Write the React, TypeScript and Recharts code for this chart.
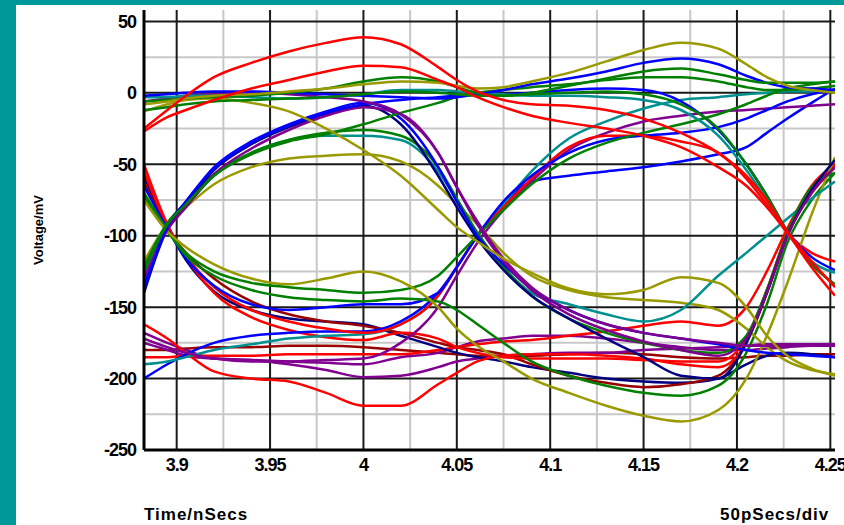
import React from "react";
import { LineChart, Line, XAxis, YAxis, CartesianGrid } from "recharts";

// sample times (nSecs) shared by every trace
const times = [
  3.8825, 3.895, 3.905, 3.92, 3.94, 3.96, 3.98, 4.0, 4.02, 4.04, 4.05, 4.061,
  4.075, 4.09, 4.11, 4.13, 4.15, 4.17, 4.19, 4.205, 4.216, 4.227, 4.24, 4.2525
];

const xTicks = [3.9, 3.95, 4, 4.05, 4.1, 4.15, 4.2, 4.25];
const xMinor = [3.925, 3.975, 4.025, 4.075, 4.125, 4.175, 4.225];
const yTicks = [-250, -200, -150, -100, -50, 0, 50];
const yMajor = [50, 0, -50, -100, -150, -200];
const yMinor = [25, -25, -75, -125, -175, -225];

// traces, mV
const red1 = [-25, -12, -2, 11, 21, 29, 35, 39, 34, 18, 9, 1, -5, -8, -9, -12, -18, -28, -42, -58, -75, -97, -118, -136];
const red2 = [-27, -17, -12, -5, 3, 9, 15, 19, 18, 9, 4, -3, -10, -16, -21, -25, -30, -38, -52, -65, -80, -98, -122, -142];
const red3 = [-50, -92, -115, -140, -157, -166, -171, -173, -168, -172, -178, -182, -185, -186, -186, -186, -187, -188, -188, -172, -138, -98, -70, -52];
const red4 = [-55, -93, -114, -136, -152, -160, -165, -168, -162, -142, -122, -100, -80, -60, -38, -30, -30, -34, -42, -60, -78, -98, -112, -118];
const red5 = [-162, -172, -182, -195, -200, -202, -210, -219, -219, -204, -196, -188, -184, -183, -183, -184, -186, -190, -192, -175, -140, -98, -68, -50];
const red6 = [-185, -185, -184, -184, -184, -183, -183, -183, -183, -180, -178, -176, -174, -173, -170, -167, -163, -160, -163, -150, -125, -95, -65, -50];
const blue1 = [-2, -1, 0, 1, 1, 0, -1, -2, -3, -4, -3, -1, 2, 6, 10, 15, 21, 24, 20, 12, 7, 4, 3, 2];
const blue2 = [-135, -93, -76, -52, -34, -22, -13, -7, -18, -52, -76, -100, -120, -137, -152, -162, -168, -172, -176, -180, -182, -183, -184, -185];
const blue3 = [-138, -94, -76, -53, -35, -23, -14, -8, -5, -3, -2, -1, -1, 0, 2, 3, 2, -6, -26, -50, -72, -97, -115, -124];
const blue4 = [-200, -190, -183, -175, -170, -168, -167, -167, -160, -140, -122, -100, -78, -62, -58, -55, -52, -48, -43, -38, -28, -18, -7, 3];
const blue5 = [-65, -95, -116, -135, -148, -152, -150, -148, -148, -140, -122, -100, -76, -58, -42, -33, -30, -28, -24, -18, -12, -6, -1, 2];
const navy1 = [-140, -95, -78, -54, -36, -24, -15, -9, -22, -58, -80, -102, -124, -142, -158, -172, -185, -198, -200, -175, -140, -100, -68, -47];
const navy2 = [-58, -94, -117, -139, -152, -158, -160, -162, -170, -178, -182, -185, -188, -192, -196, -200, -202, -203, -200, -190, -184, -182, -183, -185];
const green1 = [-6, -5, -4, -3, -2, 0, 3, 8, 11, 8, 4, 0, -2, 0, 5, 10, 15, 17, 13, 9, 7, 7, 7, 8];
const green2 = [-12, -10, -8, -6, -5, -4, -3, -1, 1, 0, -1, -2, -2, -1, 0, 1, -1, -8, -25, -50, -72, -97, -120, -134];
const green3 = [-125, -92, -78, -58, -43, -34, -29, -22, -14, -7, -3, 0, 2, 4, 6, 9, 11, 11, 8, 4, 2, 2, 3, 5];
const green4 = [-70, -96, -114, -128, -138, -143, -145, -146, -144, -146, -152, -162, -175, -188, -198, -205, -210, -212, -205, -182, -148, -105, -75, -56];
const green5 = [-72, -97, -112, -125, -133, -136, -138, -140, -138, -128, -115, -100, -82, -64, -46, -35, -28, -22, -15, -8, -2, 3, 6, 8];
const green6 = [-122, -91, -77, -57, -42, -33, -28, -26, -30, -52, -74, -98, -122, -142, -158, -168, -175, -180, -182, -170, -138, -98, -66, -56];
const olive1 = [-8, -6, -4, -2, -1, 1, 3, 6, 8, 7, 5, 3, 4, 8, 14, 22, 30, 35, 31, 20, 11, 5, 2, 0];
const olive2 = [-13, -8, -5, -4, -7, -13, -25, -40, -58, -82, -94, -104, -116, -126, -137, -141, -138, -129, -133, -150, -170, -184, -193, -198];
const olive3 = [-75, -97, -108, -120, -130, -134, -130, -125, -132, -150, -165, -177, -188, -200, -210, -219, -226, -230, -222, -200, -170, -133, -85, -45];
const olive4 = [-118, -92, -80, -64, -52, -46, -44, -43, -48, -65, -78, -92, -112, -128, -138, -143, -145, -147, -152, -165, -178, -188, -194, -197];
const teal1 = [-3, -3, -2, -2, -3, -4, -3, -1, 2, 2, 1, 0, -1, -2, -2, -3, -5, -12, -30, -54, -75, -98, -118, -126];
const teal2 = [-128, -93, -79, -58, -42, -33, -30, -30, -33, -55, -75, -98, -122, -140, -148, -155, -160, -152, -128, -112, -100, -88, -74, -62];
const teal3 = [-190, -188, -185, -180, -176, -172, -170, -169, -162, -142, -122, -100, -78, -55, -32, -20, -11, -5, -3, -1, 0, 1, 1, 2];
const purple1 = [-130, -96, -80, -57, -39, -26, -16, -10, -15, -42, -66, -90, -116, -136, -152, -162, -168, -172, -175, -177, -177, -177, -176, -176];
const purple2 = [-6, -4, -2, -1, 0, -1, -3, -6, -15, -42, -66, -92, -118, -138, -155, -166, -174, -180, -184, -172, -140, -100, -70, -52];
const purple3 = [-172, -178, -182, -186, -188, -188, -187, -186, -175, -150, -128, -105, -82, -62, -40, -28, -20, -16, -13, -12, -11, -10, -9, -8];
const purple4 = [-168, -175, -180, -186, -187, -190, -194, -199, -198, -192, -188, -186, -184, -183, -182, -182, -180, -179, -178, -177, -176, -176, -176, -176];
const purple5 = [-175, -180, -184, -186, -187, -188, -189, -190, -185, -182, -178, -174, -172, -170, -170, -172, -175, -178, -180, -180, -179, -178, -177, -177];
const darkred1 = [-62, -95, -112, -130, -146, -155, -160, -163, -168, -175, -178, -180, -183, -190, -198, -203, -206, -204, -198, -175, -140, -100, -70, -52];
const darkred2 = [-180, -180, -179, -178, -178, -177, -177, -178, -180, -182, -183, -184, -184, -184, -183, -182, -183, -185, -186, -185, -184, -184, -183, -183];

const RED = "#ff0000";
const BLUE = "#0000ff";
const NAVY = "#000080";
const GREEN = "#008000";
const OLIVE = "#999900";
const TEAL = "#009090";
const PURPLE = "#800090";
const DARKRED = "#990000";

const traces = [
  { key: "darkred2", color: DARKRED, values: darkred2 },
  { key: "purple4", color: PURPLE, values: purple4 },
  { key: "purple5", color: PURPLE, values: purple5 },
  { key: "red6", color: RED, values: red6 },
  { key: "navy2", color: NAVY, values: navy2 },
  { key: "darkred1", color: DARKRED, values: darkred1 },
  { key: "red5", color: RED, values: red5 },
  { key: "red3", color: RED, values: red3 },
  { key: "blue4", color: BLUE, values: blue4 },
  { key: "teal3", color: TEAL, values: teal3 },
  { key: "purple3", color: PURPLE, values: purple3 },
  { key: "red4", color: RED, values: red4 },
  { key: "blue5", color: BLUE, values: blue5 },
  { key: "green5", color: GREEN, values: green5 },
  { key: "green4", color: GREEN, values: green4 },
  { key: "olive3", color: OLIVE, values: olive3 },
  { key: "olive4", color: OLIVE, values: olive4 },
  { key: "teal2", color: TEAL, values: teal2 },
  { key: "green6", color: GREEN, values: green6 },
  { key: "navy1", color: NAVY, values: navy1 },
  { key: "blue2", color: BLUE, values: blue2 },
  { key: "purple1", color: PURPLE, values: purple1 },
  { key: "blue3", color: BLUE, values: blue3 },
  { key: "green3", color: GREEN, values: green3 },
  { key: "purple2", color: PURPLE, values: purple2 },
  { key: "olive2", color: OLIVE, values: olive2 },
  { key: "teal1", color: TEAL, values: teal1 },
  { key: "blue1", color: BLUE, values: blue1 },
  { key: "green2", color: GREEN, values: green2 },
  { key: "green1", color: GREEN, values: green1 },
  { key: "olive1", color: OLIVE, values: olive1 },
  { key: "red2", color: RED, values: red2 },
  { key: "red1", color: RED, values: red1 }
];

const data = times.map((t, i) => {
  const row: Record<string, number> = { t };
  traces.forEach((tr) => {
    row[tr.key] = tr.values[i];
  });
  return row;
});

const tickStyle = {
  fontFamily: "'Liberation Sans', Arial, sans-serif",
  fontWeight: 700,
  fontSize: 18,
  fill: "#000",
  letterSpacing: -1
};

const labelStyle: React.CSSProperties = {
  position: "absolute",
  fontFamily: "'Liberation Sans', Arial, sans-serif",
  fontWeight: 700,
  fontSize: 17,
  lineHeight: "17px",
  color: "#000",
  whiteSpace: "nowrap",
  letterSpacing: 1
};

export default function App() {
  return (
    <div
      style={{
        position: "fixed",
        left: 0,
        top: 0,
        width: 844,
        height: 525,
        background: "#009999",
        overflow: "hidden"
      }}
    >
      <div
        style={{
          position: "absolute",
          left: 16,
          top: 5,
          width: 828,
          height: 520,
          background: "#fff"
        }}
      >
        <LineChart
          width={828}
          height={520}
          data={data}
          margin={{ top: 5, right: 9, bottom: 45, left: 0 }}
        >
          <CartesianGrid
            horizontalValues={yMinor}
            verticalValues={xMinor}
            stroke="#c8c8c8"
            strokeWidth={2}
          />
          <CartesianGrid
            horizontalValues={yMajor}
            verticalValues={xTicks}
            stroke="#1a1a1a"
            strokeWidth={2}
          />
          <XAxis
            type="number"
            dataKey="t"
            domain={[3.8825, 4.2525]}
            ticks={xTicks}
            interval={0}
            allowDataOverflow
            tickFormatter={(v) => String(v)}
            axisLine={{ stroke: "#000", strokeWidth: 3 }}
            tickLine={false}
            tick={tickStyle}
            height={30}
          />
          <YAxis
            type="number"
            domain={[-250, 58]}
            ticks={yTicks}
            interval={0}
            allowDataOverflow
            axisLine={{ stroke: "#000", strokeWidth: 3 }}
            tickLine={false}
            tick={tickStyle}
            width={128}
          />
          {traces.map((tr) => (
            <Line
              key={tr.key}
              dataKey={tr.key}
              type="monotone"
              stroke={tr.color}
              strokeWidth={2.5}
              dot={false}
              isAnimationActive={false}
            />
          ))}
        </LineChart>
        <div style={{ ...labelStyle, left: 128, top: 501 }}>Time/nSecs</div>
        <div style={{ ...labelStyle, left: 704, top: 501 }}>50pSecs/div</div>
        <div
          style={{
            ...labelStyle,
            fontSize: 13,
            lineHeight: "13px",
            letterSpacing: 0,
            left: 22,
            top: 225,
            transform: "translate(-50%, -50%) rotate(-90deg)"
          }}
        >
          Voltage/mV
        </div>
      </div>
    </div>
  );
}
